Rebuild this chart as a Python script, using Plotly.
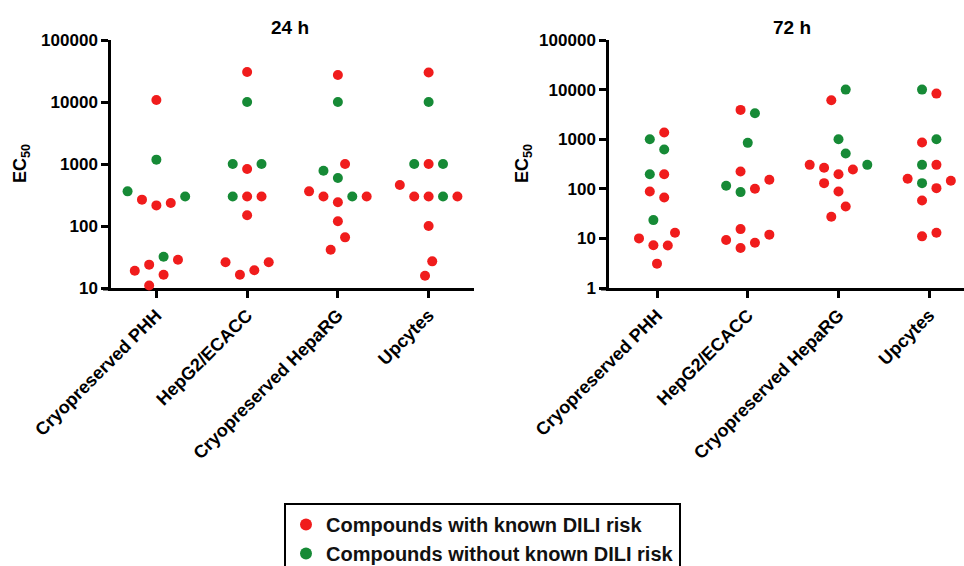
import numpy as np
import plotly.graph_objects as go

# ---------------- data ----------------
categories = ["Cryopreserved PHH", "HepG2/ECACC", "Cryopreserved HepaRG", "Upcytes"]
panel_titles = ["24 h", "72 h"]
series_names = ["Compounds with known DILI risk", "Compounds without known DILI risk"]
y_tick_vals_24h = [10, 100, 1000, 10000, 100000]
y_tick_vals_72h = [1, 10, 100, 1000, 10000, 100000]

# EC50 values per cell model (order = placement order in the swarm)
# dili flag: 1 = compound with known DILI risk, 0 = without known DILI risk
ec50_24h_phh = [11, 16.4, 23.8, 19, 32, 28.6, 215, 235, 266, 300, 362, 1175, 10800]
dili_24h_phh = [1, 1, 1, 1, 0, 1, 1, 1, 1, 0, 0, 0, 1]
ec50_24h_hepg2 = [16.4, 19.3, 26, 26, 149, 300, 300, 300, 830, 1000, 1000, 10000, 30500]
dili_24h_hepg2 = [1, 1, 1, 1, 1, 1, 1, 0, 1, 0, 0, 0, 1]
ec50_24h_heparg = [41.5, 65.6, 119, 241, 300, 300, 300, 362, 595, 1000, 780, 10000, 27200]
dili_24h_heparg = [1, 1, 1, 1, 0, 1, 1, 1, 0, 1, 0, 0, 1]
ec50_24h_upcytes = [15.8, 26.9, 100, 300, 300, 300, 300, 458, 1000, 1000, 1000, 10000, 30000]
dili_24h_upcytes = [1, 1, 1, 1, 0, 1, 1, 1, 1, 0, 0, 0, 1]

ec50_72h_phh = [3.1, 7.3, 7.2, 10, 13, 23.4, 88, 67, 197, 197, 1000, 620, 1360]
dili_72h_phh = [1, 1, 1, 1, 1, 0, 1, 1, 0, 1, 0, 0, 1]
ec50_72h_hepg2 = [6.4, 8.2, 9.3, 11.9, 15.4, 85.7, 100, 115, 152, 223, 844, 3900, 3330]
dili_72h_hepg2 = [1, 1, 1, 1, 1, 0, 1, 0, 1, 1, 0, 1, 0]
ec50_72h_heparg = [27.3, 44, 197, 245, 265, 304, 304, 130, 88, 1000, 515, 6100, 10000]
dili_72h_heparg = [1, 1, 1, 1, 1, 0, 1, 1, 1, 0, 0, 1, 0]
ec50_72h_upcytes = [11, 13, 130, 103, 58, 159, 145, 304, 304, 857, 1000, 10000, 8310]
dili_72h_upcytes = [1, 1, 0, 1, 1, 1, 1, 0, 1, 1, 0, 0, 1]

panel_values = [
    [ec50_24h_phh, ec50_24h_hepg2, ec50_24h_heparg, ec50_24h_upcytes],
    [ec50_72h_phh, ec50_72h_hepg2, ec50_72h_heparg, ec50_72h_upcytes],
]
panel_flags = [
    [dili_24h_phh, dili_24h_hepg2, dili_24h_heparg, dili_24h_upcytes],
    [dili_72h_phh, dili_72h_hepg2, dili_72h_heparg, dili_72h_upcytes],
]

# ---------------- layout geometry ----------------
W, H = 964, 566
FONT = "Liberation Sans, Arial, sans-serif"
RED = "#f01c1c"
GREEN = "#168a36"
x_dom_px = [(111, 474), (609, 964)]
y_dom_px = (40, 288)
x_ranges = [[-0.5, 3.5], [-0.529, 3.383]]
y_ranges = [[1, 5], [0, 5]]
y_ticks = [y_tick_vals_24h, y_tick_vals_72h]

DOT = 10          # marker diameter (px)
MIN_DIST = 14.4   # min centre distance between dots (px)
SLOT = 7.2        # horizontal slot step (px)


def swarm_offsets(values, px_per_decade):
    """Greedy beeswarm in pixel space; returns horizontal pixel offsets."""
    ys = np.log10(np.asarray(values, float)) * px_per_decade
    cands = [0.0]
    for j in range(1, 30):
        cands += [j * SLOT, -j * SLOT]
    xs = []
    for i, y in enumerate(ys):
        for c in cands:
            ok = True
            for m in range(len(xs)):
                if (c - xs[m]) ** 2 + (y - ys[m]) ** 2 < MIN_DIST ** 2 - 1e-6:
                    ok = False
                    break
            if ok:
                xs.append(c)
                break
    xs = np.array(xs)
    # centre each vertically-connected cluster
    order = np.argsort(ys, kind="stable")
    clusters, cur = [], [order[0]]
    for a, b in zip(order[:-1], order[1:]):
        if ys[b] - ys[a] < MIN_DIST:
            cur.append(b)
        else:
            clusters.append(cur)
            cur = [b]
    clusters.append(cur)
    for cl in clusters:
        cl = np.array(cl)
        xs[cl] -= (xs[cl].max() + xs[cl].min()) / 2
    return xs


fig = go.Figure()
plot_h = y_dom_px[1] - y_dom_px[0]

for p in range(2):
    xa = "x" if p == 0 else "x2"
    ya = "y" if p == 0 else "y2"
    px_per_decade = plot_h / (y_ranges[p][1] - y_ranges[p][0])
    px_per_unit = (x_dom_px[p][1] - x_dom_px[p][0]) / (x_ranges[p][1] - x_ranges[p][0])
    pts = {1: ([], []), 0: ([], [])}
    for ci, (vals, flags) in enumerate(zip(panel_values[p], panel_flags[p])):
        offs = swarm_offsets(vals, px_per_decade)
        for v, f, o in zip(vals, flags, offs):
            pts[f][0].append(ci + o / px_per_unit)
            pts[f][1].append(v)
    for f, name, col in [(1, series_names[0], RED), (0, series_names[1], GREEN)]:
        fig.add_trace(go.Scatter(
            x=pts[f][0], y=pts[f][1], mode="markers", name=name,
            marker=dict(size=DOT, color=col, line=dict(width=0)),
            xaxis=xa, yaxis=ya, showlegend=(p == 0),
            legendgroup=name, cliponaxis=False, hoverinfo="skip",
        ))

axis_common = dict(showline=True, linecolor="black", linewidth=2.5,
                   ticks="outside", ticklen=7, tickwidth=2.5, tickcolor="black",
                   showgrid=False, zeroline=False, fixedrange=True,
                   layer="below traces")

layout = dict(
    width=W, height=H,
    margin=dict(l=0, r=0, t=0, b=0, autoexpand=False),
    paper_bgcolor="white", plot_bgcolor="white",
    font=dict(family=FONT, color="black"),
    showlegend=True,
    legend=dict(
        x=284 / W, y=1 - 503 / H, xanchor="left", yanchor="top",
        bordercolor="black", borderwidth=2, bgcolor="white",
        font=dict(family=FONT, size=20, color="#111", weight="bold"),
        tracegroupgap=0, itemsizing="constant",
        entrywidth=390, entrywidthmode="pixels",
    ),
)
yd = [1 - y_dom_px[1] / H, 1 - y_dom_px[0] / H]
for p in range(2):
    sx = "" if p == 0 else "2"
    layout["xaxis" + sx] = dict(
        axis_common, domain=[x_dom_px[p][0] / W, x_dom_px[p][1] / W],
        range=x_ranges[p], anchor="y" + sx,
        tickmode="array", tickvals=list(range(len(categories))), ticktext=categories,
        tickangle=-45, tickfont=dict(family=FONT, size=18, weight="bold"),
    )
    layout["yaxis" + sx] = dict(
        axis_common, domain=yd, type="log", range=y_ranges[p], anchor="x" + sx,
        tickmode="array", tickvals=y_ticks[p], ticktext=[str(v) for v in y_ticks[p]],
        tickfont=dict(family=FONT, size=17, weight="bold"),
    )
fig.update_layout(**layout)

# panel titles and y-axis titles
title_x_px = [290, 792]
ytitle_x_px = [21, 523]
for p in range(2):
    fig.add_annotation(text=panel_titles[p], x=title_x_px[p] / W, y=1 - 27 / H,
                       xref="paper", yref="paper", showarrow=False,
                       xanchor="center", yanchor="middle",
                       font=dict(family=FONT, size=19, weight="bold"))
    fig.add_annotation(text="EC<sub>50</sub>", x=ytitle_x_px[p] / W, y=1 - 164 / H,
                       xref="paper", yref="paper", showarrow=False, textangle=-90,
                       xanchor="center", yanchor="middle",
                       font=dict(family=FONT, size=18, weight="bold"))
    # x-axis line extends a little left of the y axis (GraphPad style)
    fig.add_shape(type="line", xref="paper", yref="paper", layer="below",
                  x0=(x_dom_px[p][0] - 8) / W, x1=x_dom_px[p][0] / W,
                  y0=yd[0] - 1.25 / H, y1=yd[0] - 1.25 / H,
                  line=dict(color="black", width=2.5))

fig.write_html("out.html")
